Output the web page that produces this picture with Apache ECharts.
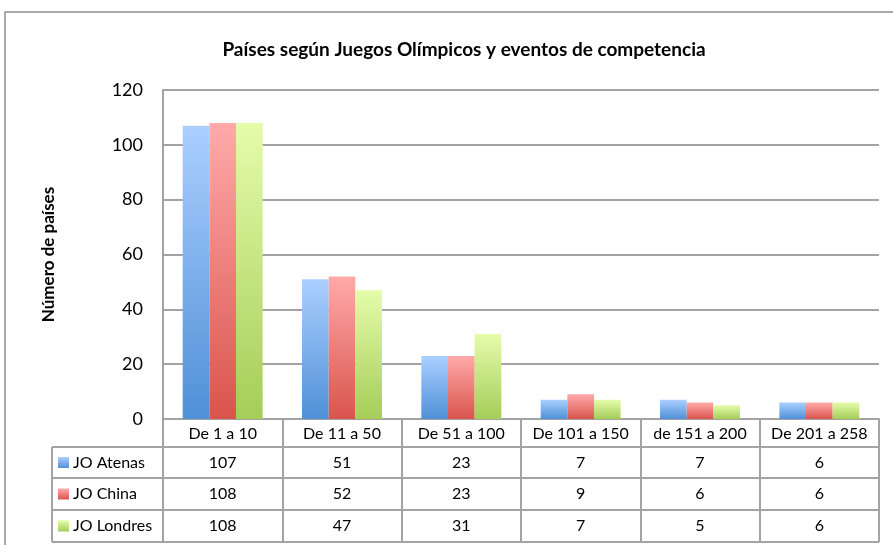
<!DOCTYPE html>
<html>
<head>
<meta charset="utf-8">
<script src="https://cdn.jsdelivr.net/npm/echarts@6/dist/echarts.min.js"></script>
<style>
html, body { margin: 0; padding: 0; background: #fff; }
#chart { width: 893px; height: 545px; }
</style>
</head>
<body>
<div id="chart"></div>
<script>
var categories = ['De 1 a 10', 'De 11 a 50', 'De 51 a 100', 'De 101 a 150', 'de 151 a 200', 'De 201 a 258'];
var seriesNames = ['JO Atenas', 'JO China', 'JO Londres'];
var atenas = [107, 51, 23, 7, 7, 6];
var china = [108, 52, 23, 9, 6, 6];
var londres = [108, 47, 31, 7, 5, 6];
var yTicks = [0, 20, 40, 60, 80, 100, 120];

var FONT = 'Lato, "Open Sans", sans-serif';
var GRAY = '#a3a3a3';

// top and bottom colours of each bar gradient
var colorPairs = [
	['#abcfff', '#4f90d7'],
	['#ffaaaa', '#d9544d'],
	['#e5fcaa', '#a5cd58']
];

function grad(p) {
	return new echarts.graphic.LinearGradient(0, 0, 0, 1, [
		{ offset: 0, color: p[0] },
		{ offset: 1, color: p[1] }
	]);
}

var allData = [atenas, china, londres];

var option = {
	animation: false,
	title: {
		text: 'Países según Juegos Olímpicos y eventos de competencia',
		left: 459,
		top: 35,
		textAlign: 'center',
		textStyle: { fontFamily: FONT, fontSize: 19, fontWeight: 'bold', color: '#000' }
	},
	grid: { left: 163, right: 14, top: 90, bottom: 126 },
	xAxis: {
		type: 'category',
		data: categories,
		axisLine: { lineStyle: { color: GRAY, width: 2 } },
		axisTick: { show: true, interval: 0, length: 123, lineStyle: { color: GRAY, width: 2 } },
		axisLabel: { interval: 0, hideOverlap: false, margin: 7, fontFamily: FONT, fontSize: 16, color: '#000' }
	},
	yAxis: {
		type: 'value',
		min: yTicks[0],
		max: yTicks[yTicks.length - 1],
		interval: 20,
		name: 'Número de países',
		nameLocation: 'middle',
		nameGap: 106,
		nameTextStyle: { fontFamily: FONT, fontSize: 17, fontWeight: 'bold', color: '#000' },
		axisLine: { show: true, lineStyle: { color: GRAY, width: 2 } },
		axisTick: { show: false },
		axisLabel: { margin: 20, fontFamily: FONT, fontSize: 18, color: '#000' },
		splitLine: { lineStyle: { color: GRAY, width: 2 } }
	},
	series: seriesNames.map(function (n, i) {
		return {
			name: n,
			type: 'bar',
			data: allData[i],
			barGap: '0%',
			barCategoryGap: '33%',
			itemStyle: {
				color: grad(colorPairs[i]),
				shadowColor: 'rgba(0,0,0,0.18)',
				shadowBlur: 4,
				shadowOffsetX: 1,
				shadowOffsetY: 1
			}
		};
	}),
	graphic: []
};

var chart = echarts.init(document.getElementById('chart'));
chart.setOption(option);

// data table under the axis
var rowTop = [447, 478, 510];
var rowH = [31, 32, 32];
var tableLeft = 52, tableRight = 879;
var g = [];
// outer frame
g.push({ type: 'rect', shape: { x: 5, y: 12, width: 900, height: 560 }, style: { fill: 'none', stroke: '#8f8f8f', lineWidth: 1.5 }, silent: true, z: -1 });
// horizontal lines
[447, 478, 510, 542].forEach(function (y) {
	g.push({ type: 'line', shape: { x1: tableLeft, y1: y, x2: tableRight, y2: y }, style: { stroke: GRAY, lineWidth: 2 } });
});
g.push({ type: 'line', shape: { x1: tableLeft, y1: 447, x2: tableLeft, y2: 542 }, style: { stroke: GRAY, lineWidth: 2 } });
g.push({ type: 'line', shape: { x1: 163, y1: 447, x2: 163, y2: 542 }, style: { stroke: GRAY, lineWidth: 2 } });

seriesNames.forEach(function (n, r) {
	var cy = rowTop[r] + rowH[r] / 2;
	g.push({ type: 'rect', shape: { x: 58, y: cy - 5.5, width: 11, height: 11 }, style: { fill: grad(colorPairs[r]) } });
	g.push({ type: 'text', x: 73, y: cy, style: { text: n, fontFamily: FONT, fontSize: 16, fill: '#000', textVerticalAlign: 'middle' } });
	allData[r].forEach(function (v, c) {
		var cx = chart.convertToPixel({ xAxisIndex: 0 }, c);
		g.push({ type: 'text', x: cx, y: cy, style: { text: String(v), fontFamily: FONT, fontSize: 16, fill: '#000', textAlign: 'center', textVerticalAlign: 'middle' } });
	});
});

chart.setOption({ graphic: g });
</script>
</body>
</html>
